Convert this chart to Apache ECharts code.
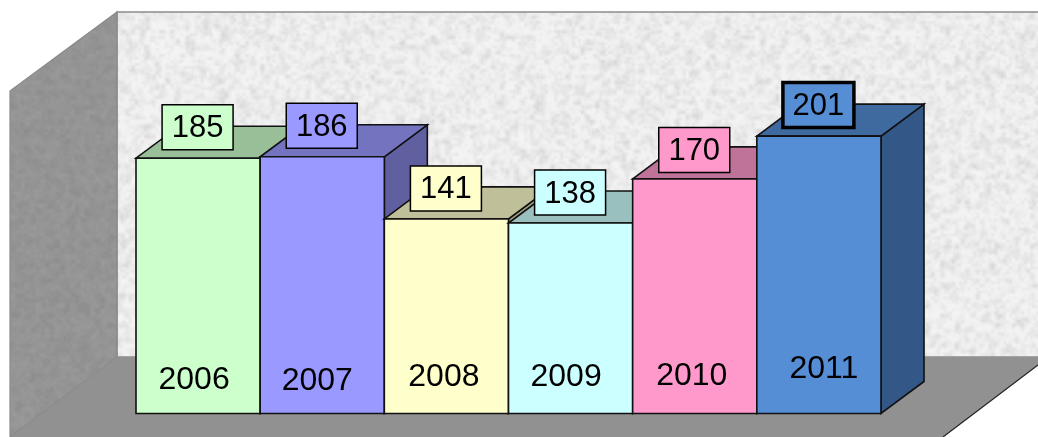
<!DOCTYPE html>
<html>
<head>
<meta charset="utf-8">
<style>html,body{margin:0;padding:0;background:#fff}#c{width:1038px;height:437px}</style>
<script src="https://cdn.jsdelivr.net/npm/echarts@6/dist/echarts.min.js"></script>
</head>
<body>
<div id="c"></div>
<script>
const years = ['2006','2007','2008','2009','2010','2011'];
const counts = [185,186,141,138,170,201];

const frontColors = ['#CCFFCC','#9999FF','#FFFFCC','#CCFFFF','#FF99CC','#558ED5'];
const topColors   = ['#99BF99','#7373BF','#BFBF99','#99BFBF','#BF7399','#3F6AA0'];
const sideColors  = ['#80A080','#6060A0','#A0A080','#80A0A0','#A06080','#335887'];
const boxBorders  = [1.5,1.5,1.5,1.5,1.5,3.5];
const boxNudgeY   = [31,31,30.5,30.5,29,31];
const yearNudgeX  = [-4,-5,-2.5,-4.5,-3,5];
const yearNudgeY  = [35.5,34.5,38.5,38.5,39.5,46.5];

const DEPTH_X = 43, DEPTH_Y = -32;

// Decorative stucco wall texture (deterministic, not data)
function texture(base, amp, w, h) {
  let seed = 12345;
  const rnd = () => (seed = (seed * 16807) % 2147483647) / 2147483647;
  const out = document.createElement('canvas');
  out.width = w; out.height = h;
  const ctx = out.getContext('2d');
  ctx.fillStyle = 'rgb(' + base + ',' + base + ',' + base + ')';
  ctx.fillRect(0, 0, w, h);
  [[5, 1], [3, 0.7]].forEach(function (o) {
    const sw = Math.ceil(w / o[0]), sh = Math.ceil(h / o[0]);
    const s = document.createElement('canvas');
    s.width = sw; s.height = sh;
    const sc = s.getContext('2d');
    const img = sc.createImageData(sw, sh);
    for (let i = 0; i < img.data.length; i += 4) {
      const d = (rnd() - 0.5) * 2;
      img.data[i] = img.data[i + 1] = img.data[i + 2] = d > 0 ? 255 : 0;
      img.data[i + 3] = Math.abs(d) * amp * o[1] * 255;
    }
    sc.putImageData(img, 0, 0);
    ctx.imageSmoothingEnabled = true;
    ctx.drawImage(s, 0, 0, w, h);
  });
  return out;
}
const backTex = texture(243, 0.075, 1060, 437);
const sideTex = texture(150, 0.04, 1060, 437);

const chart = echarts.init(document.getElementById('c'));
chart.setOption({
  animation: false,
  backgroundColor: '#fff',
  grid: { left: 136, right: 157, top: 68.5, bottom: 23.5 },
  xAxis: { type: 'category', data: years, show: false },
  yAxis: { type: 'value', min: 0, max: 250, show: false },
  graphic: [
    { type: 'polygon', z: -10, shape: { points: [[117,12],[1050,12],[1050,357],[117,357]] },
      style: { fill: { image: backTex, repeat: 'repeat' }, stroke: '#8c8c8c', lineWidth: 1.5 } },
    { type: 'polygon', z: -9, shape: { points: [[117,357],[1050,357],[1050,356],[1038,365],[943,437],[10,437]] },
      style: { fill: '#919191', stroke: null } },
    { type: 'polyline', z: -8, shape: { points: [[1038,365],[943,437]] },
      style: { stroke: '#222', lineWidth: 1.2, fill: null } },
    { type: 'polygon', z: -7, shape: { points: [[10,91],[117,12],[117,357],[10,437]] },
      style: { fill: { image: sideTex, repeat: 'repeat' }, stroke: '#8a8a8a', lineWidth: 1.2 } }
  ],
  series: [{
    type: 'custom',
    coordinateSystem: 'cartesian2d',
    data: counts.map((v, i) => [i, v]),
    encode: { x: 0, y: 1 },
    clip: false,
    renderItem: function (params, api) {
      const i = api.value(0), v = api.value(1);
      const top = api.coord([i, v]);
      const base = api.coord([i, 0]);
      const w = api.size([1, 0])[0];
      const x0 = top[0] - w / 2, x1 = top[0] + w / 2, yt = top[1], yb = base[1];
      const edge = { stroke: '#111', lineWidth: 1.6, lineJoin: 'miter' };
      return {
        type: 'group',
        children: [
          { type: 'polygon', shape: { points: [[x1,yt],[x1+DEPTH_X,yt+DEPTH_Y],[x1+DEPTH_X,yb+DEPTH_Y],[x1,yb]] },
            style: Object.assign({ fill: sideColors[i] }, edge) },
          { type: 'polygon', shape: { points: [[x0,yt],[x1,yt],[x1+DEPTH_X,yt+DEPTH_Y],[x0+DEPTH_X,yt+DEPTH_Y]] },
            style: Object.assign({ fill: topColors[i] }, edge) },
          { type: 'rect', shape: { x: x0, y: yt, width: w, height: yb - yt },
            style: Object.assign({ fill: frontColors[i] }, edge) },
          { type: 'text', z2: 5,
            style: { text: years[i], x: top[0] + yearNudgeX[i], y: yb - yearNudgeY[i] + 2,
              align: 'center', verticalAlign: 'middle', fill: '#000',
              font: '32px "Liberation Sans", Arial, sans-serif' } },
          { type: 'rect', z2: 6,
            shape: { x: top[0] - 36, y: yt - boxNudgeY[i] - 22.5, width: 71, height: 45 },
            style: { fill: frontColors[i], stroke: '#000', lineWidth: boxBorders[i] } },
          { type: 'text', z2: 7,
            style: { text: String(v), x: top[0] - 0.5, y: yt - boxNudgeY[i] + 1.5,
              align: 'center', verticalAlign: 'middle', fill: '#000',
              font: '31px "Liberation Sans", Arial, sans-serif' } }
        ]
      };
    }
  }]
});
</script>
</body>
</html>
